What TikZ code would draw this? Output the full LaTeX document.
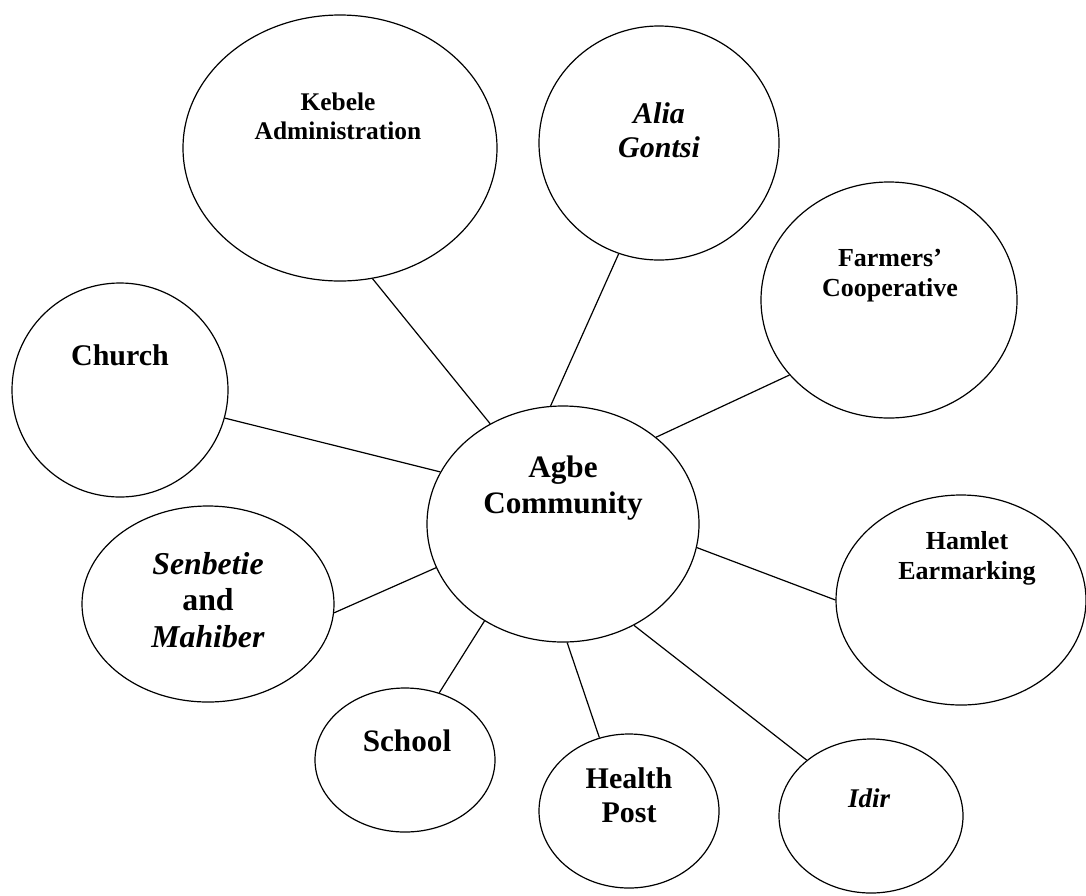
\documentclass[tikz,border=0pt]{standalone}
\usepackage{fontspec}
\setmainfont{Liberation Serif}
\usepackage{tikz}
\usetikzlibrary{shapes.geometric}

\newcommand{\fsz}[1]{\fontsize{#1}{1.15\dimexpr #1\relax}\selectfont}

\begin{document}
\begin{tikzpicture}[x=0.5pt, y=-0.5pt, line width=0.6pt,
  bubble/.style={draw=black, ellipse, inner sep=0pt},
  tag/.style={align=center, inner sep=0pt, font=\bfseries}]

\useasboundingbox (0, 0) rectangle (1086, 895);

% draw bubbles
\node[bubble, minimum width=136pt, minimum height=118pt] (agbe) at (563, 524) {};
\node[bubble, minimum width=157pt, minimum height=133pt] (kebele) at (340, 148) {};
\node[bubble, minimum width=120pt, minimum height=117pt] (alia) at (659, 143) {};
\node[bubble, minimum width=128pt, minimum height=118pt] (farmers) at (889, 300) {};
\node[bubble, minimum width=108pt, minimum height=107pt] (church) at (120, 390) {};
\node[bubble, minimum width=125pt, minimum height=105pt] (hamlet) at (961, 600) {};
\node[bubble, minimum width=126pt, minimum height=98pt] (senbetie) at (208, 604) {};
\node[bubble, minimum width=90pt, minimum height=72pt] (school) at (405, 760) {};
\node[bubble, minimum width=90pt, minimum height=77pt] (health) at (629, 811) {};
\node[bubble, minimum width=92pt, minimum height=77pt] (idir) at (871, 816) {};

% draw labels
\node[tag, font=\bfseries\fsz{15.6pt}] (agbe-t) at (563, 488) {Agbe\\Community};
\node[tag, font=\bfseries\fsz{12.7pt}] (kebele-t) at (338, 116) {Kebele\\Administration};
\node[tag, font=\bfseries\itshape\fsz{15pt}] (alia-t) at (659, 130) {Alia\\Gontsi};
\node[tag, font=\bfseries\fsz{13pt}] (farmers-t) at (890, 276) {Farmers'\\Cooperative};
\node[tag, font=\bfseries\fsz{15pt}] (church-t) at (120, 355) {Church};
\node[tag, font=\bfseries\fsz{13pt}] (hamlet-t) at (967, 558) {Hamlet\\Earmarking};
\node[tag, font=\bfseries\fsz{15.9pt}] (senbetie-t) at (208, 600) {\textit{Senbetie}\\and\\\textit{Mahiber}};
\node[tag, font=\bfseries\fsz{15.6pt}] (school-t) at (407, 741) {School};
\node[tag, font=\bfseries\fsz{15pt}] (health-t) at (629, 795) {Health\\Post};
\node[tag, font=\bfseries\itshape\fsz{13.5pt}] (idir-t) at (869, 798) {Idir};

% draw links
\draw (agbe.126) -- (kebele.-76);
\draw (agbe.96) -- (alia.-110);
\draw (agbe.43) -- (farmers.-143);
\draw (agbe.157.5) -- (church.-15);
\draw (agbe.-10.6) -- (hamlet.180);
\draw (agbe.-161) -- (senbetie.-4);
\draw (agbe.-129) -- (school.63);
\draw (agbe.-88) -- (health.112);
\draw (agbe.-55) -- (idir.139);

\end{tikzpicture}
\end{document}
